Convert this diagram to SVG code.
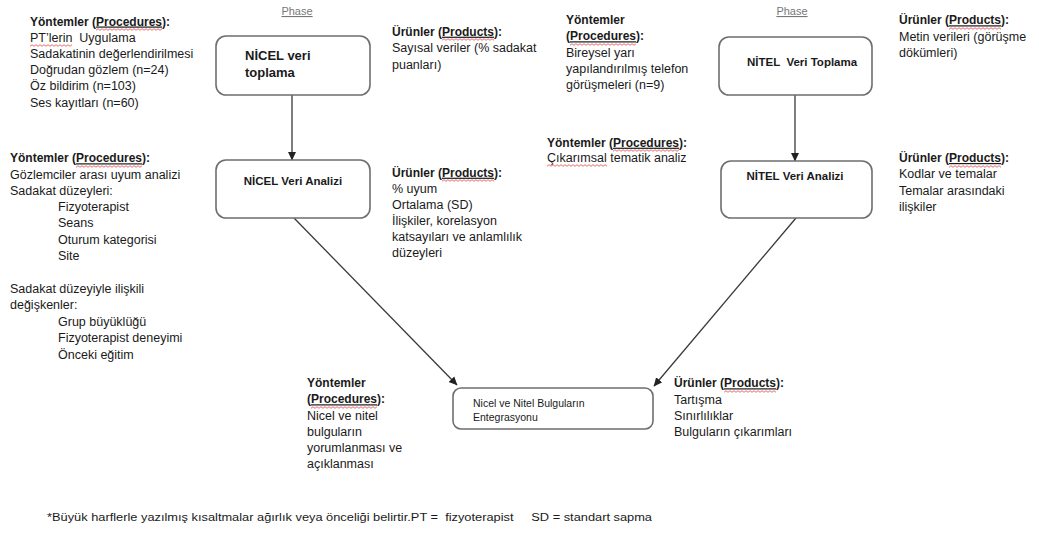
<svg xmlns="http://www.w3.org/2000/svg" width="1039" height="552" viewBox="0 0 1039 552">
<style>
text{font-family:"Liberation Sans",Arial,sans-serif;fill:#1a1a1a}
.t{font-size:12.5px}
.b{font-weight:bold;font-size:12px}
.ttl{font-weight:bold;font-size:11.5px}
.big{font-weight:bold;font-size:13px}
.ph{font-size:11px;fill:#777;text-decoration:underline}
.ul{text-decoration:underline}
.box{fill:#fff;stroke:#6e6e6e;stroke-width:1.6}
.con{fill:none;stroke:#3a3a3a;stroke-width:1.3}
.sq{fill:url(#wavy)}
</style>
<defs>
<marker id="ah" markerWidth="9" markerHeight="9" refX="8" refY="4.5" orient="auto" markerUnits="userSpaceOnUse">
<path d="M0,0.5 L8.5,4.5 L0,8.5 z" fill="#222"/>
</marker>
<pattern id="wavy" patternUnits="userSpaceOnUse" width="4" height="3">
<polyline points="0,2.3 2,0.7 4,2.3" fill="none" stroke="#e04848" stroke-width="0.8"/>
</pattern>
</defs>
<rect width="1039" height="552" fill="#fff"/>

<text class="ph" x="297" y="15" text-anchor="middle">Phase</text>
<text class="ph" x="792" y="15" text-anchor="middle">Phase</text>

<g id="connectors">
<line class="con" x1="292" y1="95" x2="292" y2="160" marker-end="url(#ah)"/>
<line class="con" x1="795" y1="95" x2="795" y2="161" marker-end="url(#ah)"/>
<line class="con" x1="294" y1="218" x2="457" y2="385" marker-end="url(#ah)"/>
<line class="con" x1="796" y1="218" x2="654" y2="386" marker-end="url(#ah)"/>
</g>

<g id="nicel-toplama">
<rect class="box" x="216" y="36" width="154" height="59" rx="10"/>
<text class="big" x="245" y="59.5">NİCEL veri</text>
<text class="big" x="245" y="76.5">toplama</text>
</g>

<g id="nicel-analiz">
<rect class="box" x="216" y="160" width="154" height="58" rx="10"/>
<text class="ttl" x="293" y="185" text-anchor="middle">NİCEL Veri Analizi</text>
</g>

<g id="nitel-toplama">
<rect class="box" x="719" y="37" width="153" height="58" rx="10"/>
<text class="ttl" x="747" y="65.5" xml:space="preserve">NİTEL  Veri Toplama</text>
</g>

<g id="nitel-analiz">
<rect class="box" x="721" y="161" width="151" height="57" rx="10"/>
<text class="ttl" x="795" y="179.5" text-anchor="middle">NİTEL Veri Analizi</text>
</g>

<g id="entegrasyon">
<rect class="box" x="453" y="388" width="200" height="41" rx="8"/>
<text x="473" y="406.5" style="font-size:10.5px">Nicel ve Nitel Bulguların</text>
<text x="473" y="420.5" style="font-size:10.5px">Entegrasyonu</text>
</g>

<g id="nicel-toplama-yontem">
<text class="b" x="30" y="25.5">Yöntemler (<tspan class="ul">Procedures</tspan>):</text>
<text class="t" x="30" y="41.7" xml:space="preserve">PT’lerin  Uygulama</text>
<text class="t" x="30" y="57.9">Sadakatinin değerlendirilmesi</text>
<text class="t" x="30" y="74.1">Doğrudan gözlem (n=24)</text>
<text class="t" x="30" y="90.3">Öz bildirim (n=103)</text>
<text class="t" x="30" y="106.5">Ses kayıtları (n=60)</text>
</g>

<g id="nicel-toplama-urun">
<text class="b" x="392" y="35.7">Ürünler (<tspan class="ul">Products</tspan>):</text>
<text class="t" x="392" y="52.2">Sayısal veriler (% sadakat</text>
<text class="t" x="392" y="68.7">puanları)</text>
</g>

<g id="nicel-analiz-yontem">
<text class="b" x="10" y="162.3">Yöntemler (<tspan class="ul">Procedures</tspan>):</text>
<text class="t" x="10" y="178.5">Gözlemciler arası uyum analizi</text>
<text class="t" x="10" y="194.8">Sadakat düzeyleri:</text>
<text class="t" x="58" y="211">Fizyoterapist</text>
<text class="t" x="58" y="227.2">Seans</text>
<text class="t" x="58" y="243.5">Oturum kategorisi</text>
<text class="t" x="58" y="259.7">Site</text>
<text class="t" x="10" y="292.7">Sadakat düzeyiyle ilişkili</text>
<text class="t" x="10" y="309">değişkenler:</text>
<text class="t" x="58" y="325.7">Grup büyüklüğü</text>
<text class="t" x="58" y="342.2">Fizyoterapist deneyimi</text>
<text class="t" x="58" y="358.7">Önceki eğitim</text>
</g>

<g id="nicel-analiz-urun">
<text class="b" x="392" y="176.7">Ürünler (<tspan class="ul">Products</tspan>):</text>
<text class="t" x="392" y="193">% uyum</text>
<text class="t" x="392" y="209">Ortalama (SD)</text>
<text class="t" x="392" y="225">İlişkiler, korelasyon</text>
<text class="t" x="392" y="241">katsayıları ve anlamlılık</text>
<text class="t" x="392" y="256.8">düzeyleri</text>
</g>

<g id="nitel-toplama-yontem">
<text class="b" x="566" y="24.3">Yöntemler</text>
<text class="b" x="566" y="40.3">(<tspan class="ul">Procedures</tspan>):</text>
<text class="t" x="566" y="56.7">Bireysel yarı</text>
<text class="t" x="566" y="72.7">yapılandırılmış telefon</text>
<text class="t" x="566" y="88.5">görüşmeleri (n=9)</text>
</g>

<g id="nitel-toplama-urun">
<text class="b" x="899" y="24.3">Ürünler (<tspan class="ul">Products</tspan>):</text>
<text class="t" x="899" y="40.5">Metin verileri (görüşme</text>
<text class="t" x="899" y="56.7">dökümleri)</text>
</g>

<g id="nitel-analiz-yontem">
<text class="b" x="547" y="146.7">Yöntemler (<tspan class="ul">Procedures</tspan>):</text>
<text class="t" x="547" y="161.9">Çıkarımsal tematik analiz</text>
</g>

<g id="nitel-analiz-urun">
<text class="b" x="899" y="162">Ürünler (<tspan class="ul">Products</tspan>):</text>
<text class="t" x="899" y="178.3">Kodlar ve temalar</text>
<text class="t" x="899" y="194.5">Temalar arasındaki</text>
<text class="t" x="899" y="210.7">ilişkiler</text>
</g>

<g id="entegrasyon-yontem">
<text class="b" x="307" y="387.3">Yöntemler</text>
<text class="b" x="307" y="403.3">(<tspan class="ul">Procedures</tspan>):</text>
<text class="t" x="307" y="419.5">Nicel ve nitel</text>
<text class="t" x="307" y="436">bulguların</text>
<text class="t" x="307" y="452.2">yorumlanması ve</text>
<text class="t" x="307" y="468.4">açıklanması</text>
</g>

<g id="entegrasyon-urun">
<text class="b" x="674" y="387.3">Ürünler (<tspan class="ul">Products</tspan>):</text>
<text class="t" x="674" y="403.5">Tartışma</text>
<text class="t" x="674" y="419.7">Sınırlılıklar</text>
<text class="t" x="674" y="436">Bulguların çıkarımları</text>
</g>

<g id="spellcheck-marks">
<g transform="translate(96,28)"><rect class="sq" width="66" height="3"/></g>
<g transform="translate(30,44)"><rect class="sq" width="42" height="3"/></g>
<g transform="translate(442,38)"><rect class="sq" width="52" height="3"/></g>
<g transform="translate(76,165)"><rect class="sq" width="66" height="3"/></g>
<g transform="translate(442,179)"><rect class="sq" width="52" height="3"/></g>
<g transform="translate(570,43)"><rect class="sq" width="66" height="3"/></g>
<g transform="translate(949,27)"><rect class="sq" width="52" height="3"/></g>
<g transform="translate(613,149)"><rect class="sq" width="66" height="3"/></g>
<g transform="translate(547,164)"><rect class="sq" width="60" height="3"/></g>
<g transform="translate(949,165)"><rect class="sq" width="52" height="3"/></g>
<g transform="translate(311,406)"><rect class="sq" width="66" height="3"/></g>
<g transform="translate(724,390)"><rect class="sq" width="52" height="3"/></g>
</g>

<text x="47" y="521" style="font-size:10px" textLength="605" lengthAdjust="spacingAndGlyphs" xml:space="preserve">*Büyük harflerle yazılmış kısaltmalar ağırlık veya önceliği belirtir.PT =  fizyoterapist     SD = standart sapma</text>
</svg>
